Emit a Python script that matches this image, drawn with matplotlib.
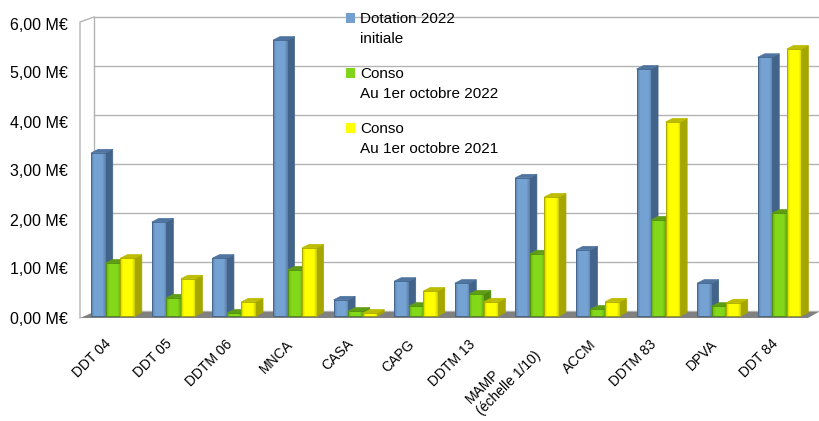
import matplotlib
matplotlib.use("Agg")
import matplotlib.pyplot as plt
import numpy as np
from matplotlib.patches import Polygon, Rectangle
from matplotlib.colors import to_rgb

plt.rcParams['font.family'] = ['Liberation Sans', 'DejaVu Sans']

categories = ["DDT 04", "DDT 05", "DDTM 06", "MNCA", "CASA", "CAPG", "DDTM 13",
              "MAMP\n(échelle 1/10)", "ACCM", "DDTM 83", "DPVA", "DDT 84"]
dotation_2022 = [3.33, 1.92, 1.18, 5.63, 0.33, 0.71, 0.67, 2.82, 1.35, 5.04, 0.67, 5.28]
conso_2022 = [1.08, 0.37, 0.06, 0.94, 0.10, 0.20, 0.45, 1.27, 0.14, 1.96, 0.20, 2.10]
conso_2021 = [1.18, 0.76, 0.29, 1.39, 0.06, 0.51, 0.29, 2.43, 0.29, 3.96, 0.27, 5.45]
series_labels = ["Dotation 2022\ninitiale", "Conso\nAu 1er octobre 2022", "Conso\nAu 1er octobre 2021"]
yticks = [0, 1, 2, 3, 4, 5, 6]
ytick_labels = ["0,00 M€", "1,00 M€", "2,00 M€", "3,00 M€", "4,00 M€", "5,00 M€", "6,00 M€"]

# front, side, top colours for each series
colors = [("#729fcf", "#42648a", "#4f74a0"),
          ("#81d41a", "#4f8a0e", "#5f9e14"),
          ("#ffff00", "#a6a600", "#bcbc00")]

W, H = 819, 421
fig = plt.figure(figsize=(W / 100, H / 100), dpi=100)
ax = fig.add_axes([80 / W, 105 / H, 728 / W, 294 / H])
XLIM = (-0.545, 11.47)
ax.axis("off")

# pixel -> data unit conversions
px_x = (XLIM[1] - XLIM[0]) / 728
px_y = 6 / 294
wall_dx, wall_dy = 14 * px_x, 5 * px_y
grid_c = "#b3b3b3"
x0, x1 = XLIM

# back wall gridlines and left wall
for v in yticks:
    ax.plot([x0 + wall_dx, x1 + wall_dx + 0.3], [v + wall_dy, v + wall_dy],
            color=grid_c, lw=1, clip_on=False, zorder=1)
ax.plot([x0 + wall_dx, x0 + wall_dx], [wall_dy, 6 + wall_dy], color=grid_c, lw=1,
        clip_on=False, zorder=1)
ax.plot([x0, x0, x0 + wall_dx], [-2 * px_y, 6, 6 + wall_dy], color=grid_c, lw=1,
        clip_on=False, zorder=1)

# floor
floor = Polygon([(x0, -2 * px_y), (x1, -2 * px_y), (x1 + wall_dx * 0.75, wall_dy - px_y),
                 (x0 + wall_dx, wall_dy - px_y)],
                closed=True, facecolor="#808080", edgecolor="none", clip_on=False, zorder=2)
ax.add_patch(floor)

# shading across the front face of a bar
t = np.linspace(0, 1, 24)
shade = 0.80 + 0.22 * np.clip(np.sin(np.pi * t) * 1.6, 0, 1)

bw = 0.24
dx, dy = 7 * px_x, 3.5 * px_y
offsets = [-bw, 0, bw]
z = 3
for i in range(len(categories)):
    for s, vals in enumerate([dotation_2022, conso_2022, conso_2021]):
        h = vals[i]
        front, side, top = colors[s]
        xl = i + offsets[s] - bw / 2
        xr = xl + bw
        ax.add_patch(Polygon([(xr, 0), (xr + dx, dy), (xr + dx, h + dy), (xr, h)],
                             closed=True, facecolor=side, edgecolor=side, lw=0.5,
                             clip_on=False, zorder=z))
        ax.add_patch(Polygon([(xl, h), (xl + dx, h + dy), (xr + dx, h + dy), (xr, h)],
                             closed=True, facecolor=top, edgecolor=top, lw=0.5,
                             clip_on=False, zorder=z))
        bar = ax.bar(xl, h, width=bw, align="edge", color=front, edgecolor="none",
                     zorder=z + 0.3, clip_on=False)[0]
        grad = np.clip(np.outer(shade, to_rgb(front)), 0, 1)[None, :, :]
        im = ax.imshow(grad, extent=(xl, xr, 0, h), aspect="auto", zorder=z + 0.4,
                       interpolation="bilinear")
        im.set_clip_path(bar)
        ax.bar(xl, h, width=bw, align="edge", color="none", edgecolor=side, lw=0.6,
               zorder=z + 0.5, clip_on=False)
        z += 1

ax.set_xlim(*XLIM)
ax.set_ylim(0, 6)

# value axis labels
for v, lab in zip(yticks, ytick_labels):
    ax.text(x0 - 12 * px_x, v - 3 * px_y, lab, ha="right", va="center", fontsize=11.5,
            color="black")

# category labels (two-line label nudged right)
for i, lab in enumerate(categories):
    ox = 7 if "\n" in lab else 1
    ax.text(i + ox * px_x, -21 * px_y, lab, ha="right", va="top", rotation=45,
            fontsize=10, multialignment="left")

# legend
for s, lab in enumerate(series_labels):
    ytop = 13 + 55 * s
    fig.patches.append(Rectangle((346 / W, 1 - (ytop + 10) / H), 9 / W, 10 / H,
                                 transform=fig.transFigure, facecolor=colors[s][0],
                                 edgecolor="none"))
    fig.text(360 / W, 1 - (ytop - 1) / H, lab, ha="left", va="top", fontsize=11,
             linespacing=1.55)

fig.savefig("out.png", dpi=100)
